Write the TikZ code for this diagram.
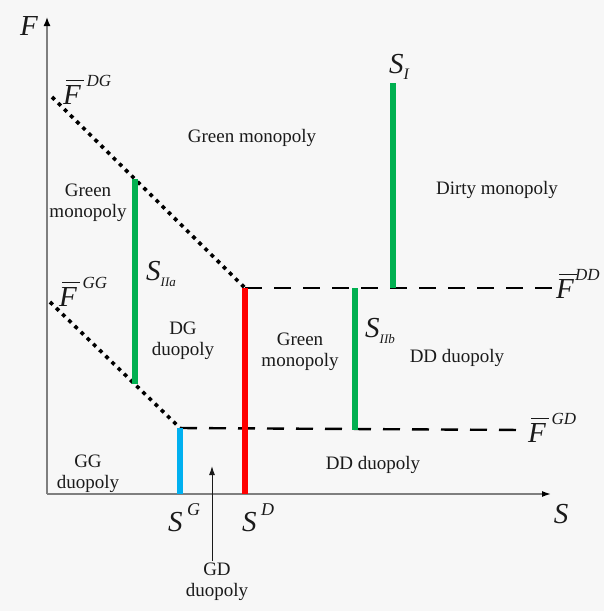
\documentclass[tikz,border=0pt]{standalone}
\usepackage{fontspec}
\setmainfont{Liberation Serif}
\usetikzlibrary{arrows.meta}
\definecolor{bg}{HTML}{F7F7F7}
\definecolor{axisgray}{HTML}{7F7F7F}
\definecolor{sgreen}{HTML}{00B050}
\definecolor{sred}{HTML}{FF0000}
\definecolor{sblue}{HTML}{00B0F0}
\definecolor{ink}{HTML}{1A1A1A}
\tikzset{
  >=Latex,
  every node/.style={text=ink,inner sep=1pt},
  region/.style={font=\fontsize{19}{23}\selectfont,align=center},
  symb/.style={font=\fontsize{29}{30}\selectfont\itshape},
  axis/.style={draw=axisgray,line width=1.4pt},
  dotline/.style={draw=black,line width=3.6pt,dash pattern=on 3.8pt off 4.8pt},
  dashline/.style={draw=black,line width=2.4pt,dash pattern=on 17pt off 12pt},
  border/.style={line width=5.5pt},
  pointer/.style={-{Latex[length=9pt,width=6pt]},draw=ink,line width=1pt},
}
\newcommand{\fbar}[2][0.2em]{\rlap{\kern0.1em\rule[0.8em]{0.62em}{1pt}}F\kern#1\raisebox{0.62em}{\fontsize{17}{18}\selectfont\itshape #2}}
\newcommand{\ssup}[1]{S\raisebox{0.55em}{\fontsize{18}{18}\selectfont\ #1}}
\newcommand{\ssub}[2][16]{S\raisebox{-0.22em}{\fontsize{#1}{#1}\selectfont #2}}

\begin{document}
\begin{tikzpicture}[x=1pt,y=-1pt]
\fill[bg] (0,0) rectangle (604,611);
\useasboundingbox (0,0) rectangle (604,611);

% key points
\coordinate (O) at (47,494);
\coordinate (ytop) at (47,17);
\coordinate (xend) at (551,494);
\coordinate (dg0) at (52,97);
\coordinate (kink) at (245,288);
\coordinate (gg0) at (50,302);
\coordinate (gg1) at (180,428);
\coordinate (dd1) at (553,288);
\coordinate (gd1) at (523,430);
\coordinate (sa0) at (135,179);
\coordinate (sa1) at (135,384);
\coordinate (sb0) at (355,288);
\coordinate (sb1) at (355,430);
\coordinate (si0) at (393,83);
\coordinate (si1) at (393,288);
\coordinate (sd) at (245,494);
\coordinate (sg) at (180,494);

% axes
\draw[axis,-{Latex[length=9pt,width=7pt,black]}] (O) -- (ytop);
\draw[axis,-{Latex[length=9pt,width=6pt,black]}] (O) -- (xend);

% threshold lines
\draw[dotline] (dg0) -- (kink);
\draw[dotline] (gg0) -- (gg1);
\draw[dashline] (kink) -- (dd1);
\draw[dashline] (gg1) -- (gd1);

% boundaries
\draw[border,sgreen] (sa0) -- (sa1);
\draw[border,sgreen] (sb0) -- (sb1);
\draw[border,sgreen] (si0) -- (si1);
\draw[border,sred] (kink) -- (sd);
\draw[border,sblue] (gg1) -- (sg);

% axis and line labels
\node[symb] (flab) at (29,26) {F};
\node[symb] (slab) at (561,514) {S};
\node[symb,anchor=west] (fdg) at (62,90) {\fbar{DG}};
\node[symb,anchor=west] (fgg) at (58,292) {\fbar{GG}};
\node[symb,anchor=west] (fdd) at (555,284) {\fbar[0.04em]{DD}};
\node[symb,anchor=west] (fgd) at (527,428) {\fbar{GD}};
\node[symb] (sglab) at (184,518) {\ssup{G}};
\node[symb] (sdlab) at (258,518) {\ssup{D}};
\node[symb] (silab) at (399,67) {\ssub{I}};
\node[symb] (salab) at (161,274) {\ssub[13]{IIa}};
\node[symb] (sblab) at (380,331) {\ssub[13]{IIb}};

% regions
\node[region] (gmtop) at (252,138) {Green monopoly};
\node[region] (gmleft) at (88,203) {Green\\[-2pt]monopoly};
\node[region] (dgduo) at (183,341) {DG\\[-2pt]duopoly};
\node[region] (ggduo) at (88,474) {GG\\[-2pt]duopoly};
\node[region] (gmmid) at (300,352) {Green\\[-2pt]monopoly};
\node[region] (dirty) at (497,190) {Dirty monopoly};
\node[region] (ddmid) at (457,358) {DD duopoly};
\node[region] (ddlow) at (373,465) {DD duopoly};
\node[region] (gdduo) at (217,582) {GD\\[-2pt]duopoly};
\coordinate (gdtip) at (212,466);
\draw[pointer] (gdduo.north -| gdtip) ++(0,-1) -- (gdtip);

\end{tikzpicture}
\end{document}
